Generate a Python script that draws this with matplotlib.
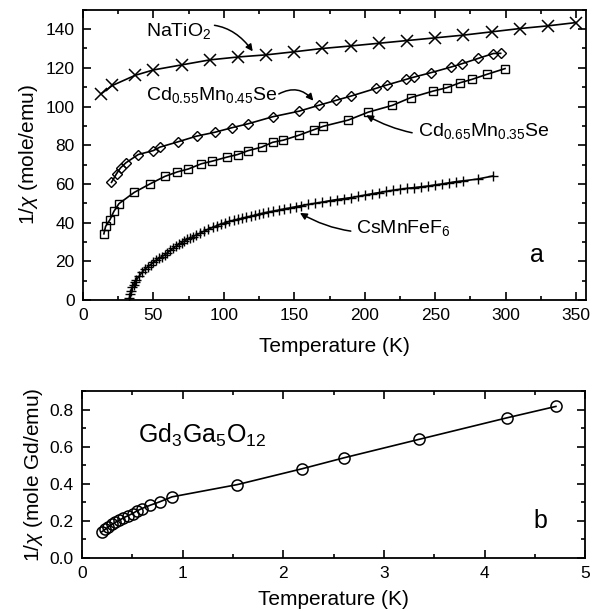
import numpy as np
import matplotlib
matplotlib.use("Agg")
import matplotlib.pyplot as plt
from matplotlib.ticker import MultipleLocator

plt.rcParams['font.family'] = ['Liberation Sans', 'DejaVu Sans']
plt.rcParams['mathtext.fontset'] = 'custom'
plt.rcParams['mathtext.rm'] = 'Liberation Sans'
plt.rcParams['mathtext.it'] = 'Liberation Sans:italic'

# panel a: NaTiO2
t_na = [13, 21, 37, 50, 70, 90, 110, 130, 150, 170, 190, 210, 230, 250, 270, 290, 310, 330, 350]
v_na = [106.6, 110.9, 116.1, 118.9, 121.5, 124.1, 125.6, 126.7, 128.3, 130.0, 131.3, 132.7,
        134.1, 135.5, 136.9, 138.6, 140.3, 141.7, 143.4]

# Cd0.55Mn0.45Se
t_cd55 = [20.3, 23.9, 26.7, 30.5, 39.3, 49.9, 54.6, 67.2, 80.7, 93.7, 105.5, 117.3, 134.6, 153.5,
          167.7, 179.6, 190.2, 208, 215.5, 229.2, 234.9, 247, 261.2, 268.8, 280.6, 291.2, 296.4]
v_cd55 = [60.8, 65.3, 68.3, 70.9, 75.2, 77.2, 79.0, 81.7, 84.7, 86.7, 89.0, 91.1, 94.7, 97.6,
          100.7, 103.2, 105.4, 109.4, 111.1, 114.0, 115.2, 117.5, 120.4, 122.1, 124.9, 127.4, 127.5]

# Cd0.65Mn0.35Se
t_cd65 = [14.9, 16.1, 19.2, 22.0, 25.6, 36.4, 47.6, 58.2, 67.0, 74.8, 84.0, 91.5, 102, 109.8,
          117.3, 126.8, 134.6, 142.2, 153, 164.2, 170.6, 188.3, 202.5, 219.6, 232.6, 248.6,
          258.1, 267.6, 275.9, 286.5, 299.5]
v_cd65 = [34.2, 38.0, 41.5, 45.8, 49.8, 55.6, 60.0, 63.9, 66.2, 67.7, 70.4, 71.7, 73.8, 75.2,
          77.2, 79.0, 81.5, 82.6, 85.1, 88.1, 89.8, 93.0, 97.1, 100.6, 104.6, 108.0,
          109.7, 112.3, 114.0, 116.6, 119.6]

# CsMnFeF6
t_cs = [33, 33.5, 34, 35, 36, 37, 38, 40, 42, 44, 46, 48, 50, 52, 54, 56, 58, 60, 62, 64, 66, 68,
        70, 72, 74, 76, 78, 80, 83, 86, 89, 92, 95, 98, 101, 104, 107, 110, 113, 116, 119, 122,
        125, 128, 131, 135, 139, 143, 147, 151, 155, 160, 165, 170, 175, 180, 185, 190, 195, 200,
        205, 210, 215, 220, 225, 230, 235, 240, 245, 250, 255, 260, 265, 270, 280, 291]
v_cs = [1.0, 3.0, 4.5, 6.5, 8.0, 9.5, 10.4, 12.4, 14.3, 16.0, 17.1, 18.3, 19.5, 20.6, 21.5, 22.4,
        23.3, 24.4, 25.6, 26.8, 27.8, 28.7, 29.6, 30.5, 31.3, 32.0, 32.7, 33.5, 34.5, 35.6, 36.6,
        37.5, 38.4, 39.3, 39.9, 40.6, 41.2, 41.7, 42.2, 42.8, 43.3, 43.8, 44.4, 44.9, 45.4, 45.9,
        46.5, 47.1, 47.6, 48.2, 48.8, 49.4, 50.0, 50.6, 51.3, 51.9, 52.4, 52.9, 53.5, 54.2, 54.9,
        55.5, 56.1, 56.7, 57.2, 57.7, 58.1, 58.5, 58.9, 59.5, 60.0, 60.6, 61.2, 61.6, 62.5, 64.1]

# panel b: Gd3Ga5O12
t_gd = [0.196, 0.229, 0.263, 0.296, 0.329, 0.372, 0.412, 0.455, 0.502, 0.545, 0.595, 0.678,
        0.771, 0.894, 1.542, 2.19, 2.605, 3.347, 4.227, 4.709]
v_gd = [0.141, 0.154, 0.168, 0.181, 0.192, 0.204, 0.217, 0.228, 0.240, 0.254, 0.267, 0.285,
        0.303, 0.330, 0.396, 0.482, 0.541, 0.640, 0.757, 0.818]

fig = plt.figure(figsize=(5.92, 6.11), dpi=100)
ax1 = fig.add_axes([0.140, 0.509, 0.850, 0.475])
ax2 = fig.add_axes([0.1385, 0.0867, 0.850, 0.273])

mk = dict(color='black', mfc='none', mec='black', lw=1.2)
ax1.plot(t_na, v_na, marker='x', ms=8, mew=1.1, **mk)
ax1.plot(t_cd55, v_cd55, marker='D', ms=5.5, mew=1.0, **mk)
ax1.plot(t_cd65, v_cd65, marker='s', ms=6, mew=1.0, **mk)
ax1.plot(t_cs, v_cs, marker='+', ms=7, mew=1.0, **mk)

ax2.plot(t_gd, v_gd, marker='o', ms=8, mew=1.1, **mk)

# labels with curved arrows
arr = dict(arrowstyle='-|>', color='black', lw=1.1, mutation_scale=10)
ax1.annotate('NaTiO$_2$', xy=(120.5, 128.5), xytext=(45, 139), fontsize=14,
             va='center', ha='left',
             arrowprops=dict(connectionstyle='arc3,rad=-0.4', shrinkA=0, shrinkB=0, **arr))
ax1.text(45, 106, 'Cd$_{0.55}$Mn$_{0.45}$Se', fontsize=14, va='center', ha='left')
ax1.annotate('', xy=(163.5, 103), xytext=(139, 106.5),
             arrowprops=dict(connectionstyle='arc3,rad=-0.4', shrinkA=0, shrinkB=0, **arr))
ax1.annotate('Cd$_{0.65}$Mn$_{0.35}$Se', xy=(201, 95.5), xytext=(237.5, 87.5), fontsize=14,
             va='center', ha='left',
             arrowprops=dict(connectionstyle='arc3,rad=-0.2', shrinkA=2, shrinkB=0, **arr))
ax1.annotate('CsMnFeF$_6$', xy=(154, 45), xytext=(194, 37), fontsize=14,
             va='center', ha='left',
             arrowprops=dict(connectionstyle='arc3,rad=-0.2', shrinkA=2, shrinkB=0, **arr))
ax1.text(322, 23, 'a', fontsize=18, ha='center', va='center')

ax2.text(0.56, 0.66, 'Gd$_3$Ga$_5$O$_{12}$', fontsize=18, ha='left', va='center')
ax2.text(4.55, 0.2, 'b', fontsize=18, ha='center', va='center')

ax1.set_xlim(0, 357)
ax1.set_ylim(0, 150)
ax1.xaxis.set_major_locator(MultipleLocator(50))
ax1.xaxis.set_minor_locator(MultipleLocator(25))
ax1.yaxis.set_major_locator(MultipleLocator(20))
ax1.yaxis.set_minor_locator(MultipleLocator(10))
ax1.set_xlabel('Temperature (K)', fontsize=15, labelpad=10)
ax1.set_ylabel('1/$\\chi$ (mole/emu)', fontsize=15, labelpad=4)

ax2.set_xlim(0, 5)
ax2.set_ylim(0, 0.9)
ax2.xaxis.set_major_locator(MultipleLocator(1))
ax2.xaxis.set_minor_locator(MultipleLocator(0.5))
ax2.yaxis.set_major_locator(MultipleLocator(0.2))
ax2.yaxis.set_minor_locator(MultipleLocator(0.1))
ax2.set_xlabel('Temperature (K)', fontsize=15, labelpad=6)
ax2.set_ylabel('1/$\\chi$ (mole Gd/emu)', fontsize=15, labelpad=3)

for ax in (ax1, ax2):
    for s in ax.spines.values():
        s.set_linewidth(1.3)
    ax.tick_params(which='both', direction='in', top=True, right=True, width=1.2,
                   labelsize=12.5, pad=6)
    ax.tick_params(which='major', length=6)
    ax.tick_params(which='minor', length=3)

fig.savefig('out.png', dpi=100)
